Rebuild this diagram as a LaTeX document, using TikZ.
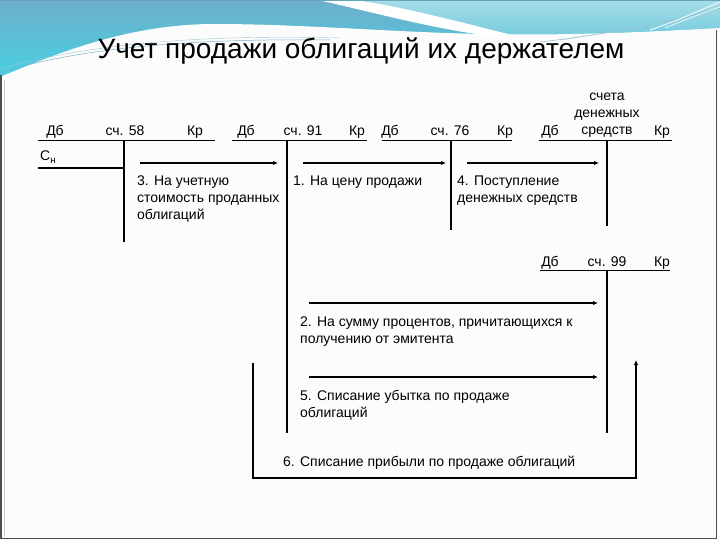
\documentclass[tikz,border=0pt]{standalone}
\usepackage{fontspec}
\setmainfont{Liberation Sans}
\usetikzlibrary{arrows.meta}
\definecolor{hdrtop}{HTML}{6DAECB}
\definecolor{hdrbot}{HTML}{45D4E4}
\definecolor{hdrlight}{HTML}{A6DCE8}
\definecolor{hdrmid}{HTML}{74CCDD}
\definecolor{wavedark}{HTML}{3E8FA8}
\definecolor{frame}{HTML}{4A4F55}
\definecolor{pagebg}{HTML}{FCFCFC}
\begin{document}
\begin{tikzpicture}[x=1pt,y=-1pt,
  lbl/.style={font=\fontsize{14}{16.8}\selectfont, inner sep=0pt},
  ttl/.style={font=\fontsize{28}{32}\selectfont, inner sep=0pt},
  acc/.style={line width=1.1pt},
  mv/.style={line width=2.2pt,-{Latex[length=5pt,width=4.5pt]}},
  thinmv/.style={line width=1.3pt},
]
\useasboundingbox (0,0) rectangle (720,540);
% ---------- slide background ----------
\fill[pagebg] (0,0) rectangle (720,540);
\shade[top color=hdrtop,bottom color=hdrbot] (0,0) rectangle (720,85);
% lighter area right of the swoosh
\shade[top color=hdrlight, bottom color=hdrmid]
  (355,0) .. controls (400,6) and (460,22) .. (520,37)
  -- (720,28) -- (720,0) -- cycle;
% white swoosh at top
\fill[white] (318,0) .. controls (380,14) and (430,28) .. (490,36)
  -- (520,37) .. controls (460,22) and (400,6) .. (355,0) -- cycle;
% white body of the slide
\fill[pagebg] (0,85) -- (0,77) .. controls (60,52) and (130,24) .. (215,24)
  .. controls (300,24) and (390,32) .. (480,34)
  .. controls (580,36) and (660,31) .. (720,28) -- (720,85) -- cycle;
\fill[pagebg] (0,84) rectangle (720,540);
% thin decorative lines of the wave
\draw[wavedark!70, line width=0.5pt] (0,73) .. controls (70,50) and (180,38) .. (330,40);
\draw[wavedark!50, line width=0.4pt] (0,69) .. controls (80,46) and (190,34) .. (340,38);
\draw[wavedark!60, line width=0.5pt] (540,42) .. controls (610,34) and (670,22) .. (720,8);
\draw[wavedark!45, line width=0.4pt] (560,40) .. controls (630,30) and (680,18) .. (720,14);
\draw[white, line width=0.8pt] (650,30) .. controls (680,20) and (700,10) .. (720,2);
\draw[white, line width=0.6pt] (665,28) .. controls (690,18) and (705,12) .. (720,7);
% frame of the slide
\draw[frame, line width=1.5pt] (0.75,75) -- (0.75,538.5) -- (716.5,538.5) -- (716.5,30);
\draw[gray!40, line width=0.6pt] (4.5,80) -- (4.5,536);
\draw[wavedark!80, line width=1pt] (0,0.5) -- (720,0.5);

% ---------- title ----------
\node[ttl, anchor=base] (title) at (361,59) {Учет продажи облигаций их держателем};

% ---------- account 58 ----------
\node[lbl, anchor=base] (d58) at (55,136) {Дб};
\node[lbl, anchor=base] (n58) at (125,136) {сч. 58};
\node[lbl, anchor=base] (k58) at (195,136) {Кр};
\coordinate (l58) at (38,140.5);
\coordinate (r58) at (215,140.5);
\coordinate (t58) at (124,140.5);
\coordinate (b58) at (124,242);
\draw[acc] (l58) -- (r58);
\draw[acc] (t58) -- (b58);
\node[lbl, anchor=base west] (sn) at (40,161) {С\textsubscript{н}};
\coordinate (snl) at (38,168);
\coordinate (snr) at (124,168);
\draw[acc] (snl) -- (snr);

% ---------- account 91 ----------
\node[lbl, anchor=base] (d91) at (246,136) {Дб};
\node[lbl, anchor=base] (n91) at (303,136) {сч. 91};
\node[lbl, anchor=base] (k91) at (357,136) {Кр};
\coordinate (l91) at (232,140.5);
\coordinate (r91) at (367,140.5);
\coordinate (t91) at (287,140.5);
\coordinate (b91) at (287,433);
\draw[acc] (l91) -- (r91);
\draw[acc] (t91) -- (b91);

% ---------- account 76 ----------
\node[lbl, anchor=base] (d76) at (390,136) {Дб};
\node[lbl, anchor=base] (n76) at (450,136) {сч. 76};
\node[lbl, anchor=base] (k76) at (505,136) {Кр};
\coordinate (l76) at (382,140.5);
\coordinate (r76) at (512,140.5);
\coordinate (t76) at (451,140.5);
\coordinate (b76) at (451,230);
\draw[acc] (l76) -- (r76);
\draw[acc] (t76) -- (b76);

% ---------- cash accounts ----------
\node[lbl, anchor=base] (dds) at (550,136) {Дб};
\node[lbl, anchor=north, align=center] (nds) at (607,93) {счета\\денежных\\средств};
\node[lbl, anchor=base] (kds) at (662,136) {Кр};
\coordinate (lds) at (539,140.5);
\coordinate (rds) at (672,140.5);
\coordinate (tds) at (607,140.5);
\coordinate (bds) at (607,226);
\draw[acc] (lds) -- (rds);
\draw[acc] (tds) -- (bds);

% ---------- account 99 ----------
\node[lbl, anchor=base] (d99) at (550,266) {Дб};
\node[lbl, anchor=base] (n99) at (607,266) {сч. 99};
\node[lbl, anchor=base] (k99) at (662,266) {Кр};
\coordinate (l99) at (540,270.5);
\coordinate (r99) at (670,270.5);
\coordinate (t99) at (607,270.5);
\coordinate (b99) at (607,433);
\draw[acc] (l99) -- (r99);
\draw[acc] (t99) -- (b99);

% ---------- postings ----------
\coordinate (a3s) at (140,163); \coordinate (a3e) at (278,163);
\draw[mv] (a3s) -- (a3e);
\node[lbl, anchor=north west, align=left] (t3) at (137,176)
  {3. На учетную\\стоимость проданных\\облигаций};

\coordinate (a1s) at (303,163); \coordinate (a1e) at (446,163);
\draw[mv] (a1s) -- (a1e);
\node[lbl, anchor=north west, align=left] (t1) at (293,176) {1. На цену продажи};

\coordinate (a4s) at (467,163); \coordinate (a4e) at (599,163);
\draw[mv] (a4s) -- (a4e);
\node[lbl, anchor=north west, align=left] (t4) at (457,176)
  {4. Поступление\\денежных средств};

\coordinate (a2s) at (309,303); \coordinate (a2e) at (598,303);
\draw[mv] (a2s) -- (a2e);
\node[lbl, anchor=north west, align=left] (t2) at (300,317)
  {2. На сумму процентов, причитающихся к\\получению от эмитента};

\coordinate (a5s) at (309,377); \coordinate (a5e) at (598,377);
\draw[mv] (a5s) -- (a5e);
\node[lbl, anchor=north west, align=left] (t5) at (300,390)
  {5. Списание убытка по продаже\\облигаций};

\coordinate (a6s) at (253,363);
\coordinate (a6c1) at (253,478);
\coordinate (a6c2) at (636,478);
\coordinate (a6m) at (636,405);
\coordinate (a6e) at (636,360);
\draw[thinmv] (a6s) -- (a6c1) -- (a6c2) -- (a6m);
\draw[mv] (a6m) -- (a6e);
\node[lbl, anchor=north west, align=left] (t6) at (283,456)
  {6. Списание прибыли по продаже облигаций};
\end{tikzpicture}
\end{document}
